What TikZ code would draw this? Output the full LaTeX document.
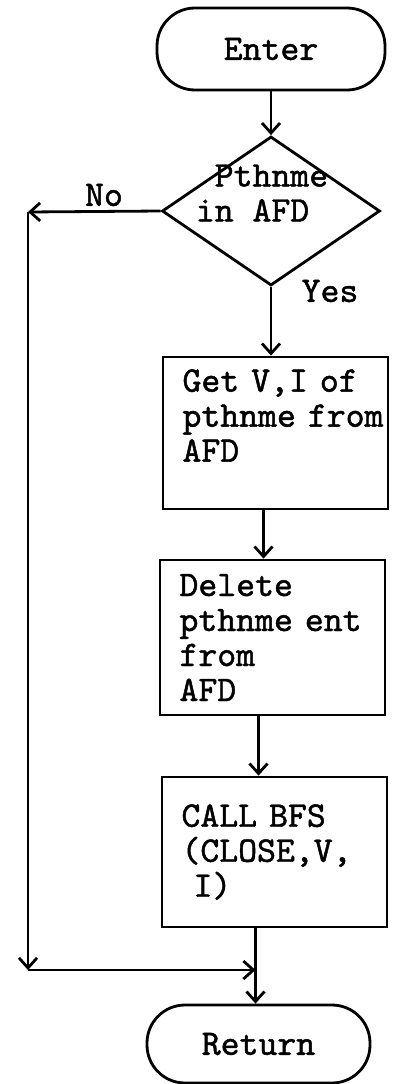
\documentclass[tikz,border=0pt]{standalone}
\usepackage{fontspec}
\setmonofont{lmmono10-regular.otf}[FakeBold=1.3, WordSpace={1,0,0}]
\usepackage{tikz}
\usetikzlibrary{positioning,arrows.meta,shapes.geometric,calc}
\newcommand\flowfont{\ttfamily\fontsize{36}{35}\selectfont
  \spaceskip=0.525em\relax\xspaceskip=0.525em\relax}

\begin{document}
\begin{tikzpicture}[
  x=1pt, y=-1pt,
  font=\flowfont,
  term/.style={draw, line width=2.8pt, rounded corners=38pt, inner sep=0pt},
  decision/.style={draw, diamond, line width=2.8pt, inner sep=0pt},
  proc/.style={draw, line width=2.8pt, inner sep=0pt, minimum width=225pt,
    text width=186pt, align=left},
  lbl/.style={inner sep=0pt},
  ar/.style={-{Straight Barb[length=10pt,width=18pt]}, line width=2.8pt}
]
  \useasboundingbox (0,0) rectangle (393,1084);
  \node[term, minimum width=228pt, minimum height=82pt] (enter) at (271,49) {Enter};
  \node[decision, minimum width=218pt, minimum height=149pt] (test) at (271,211) {};
  \node[lbl, align=left] (testtxt) at (262,193) {\ Pthnme\\in AFD};
  \node[proc, minimum height=152pt] (getvi) at (275.5,433) {Get V,I of\\pthnme~from\\AFD\\\mbox{}};
  \node[proc, minimum height=155pt] (delent) at (272.5,637.5) {Delete\\pthnme~ent\\from\\AFD};
  \node[proc, minimum height=150pt] (callbfs) at (274.5,852) {CALL BFS\\(CLOSE,V,\\\ I)};
  \node[term, minimum width=223pt, minimum height=78pt] (ret) at (258.5,1044) {Return};
  \node[lbl] (no) at (104,195) {No};
  \node[lbl] (yes) at (330,291) {Yes};
  \coordinate (nleft) at (28,212);
  \coordinate (nbot) at (28,970);
  \coordinate (gvout) at ($(getvi.south)+(-12,0)$);
  \coordinate (deout) at ($(delent.south)+(-14,0)$);
  \coordinate (cbout) at ($(callbfs.south)+(-19,0)$);
  \draw[ar] (enter.south) -- (enter.south |- test.north);
  \draw[ar] (test.south) -- (test.south |- getvi.north);
  \draw[ar] (gvout) -- (gvout |- delent.north);
  \draw[ar] (deout) -- (deout |- callbfs.north);
  \draw[ar] (test.west) -- (nleft);
  \draw[ar] (nleft) -- (nbot);
  \draw[ar] (nbot) -- (cbout |- nbot);
  \draw[ar] (cbout) -- (cbout |- ret.north);
\end{tikzpicture}
\end{document}
